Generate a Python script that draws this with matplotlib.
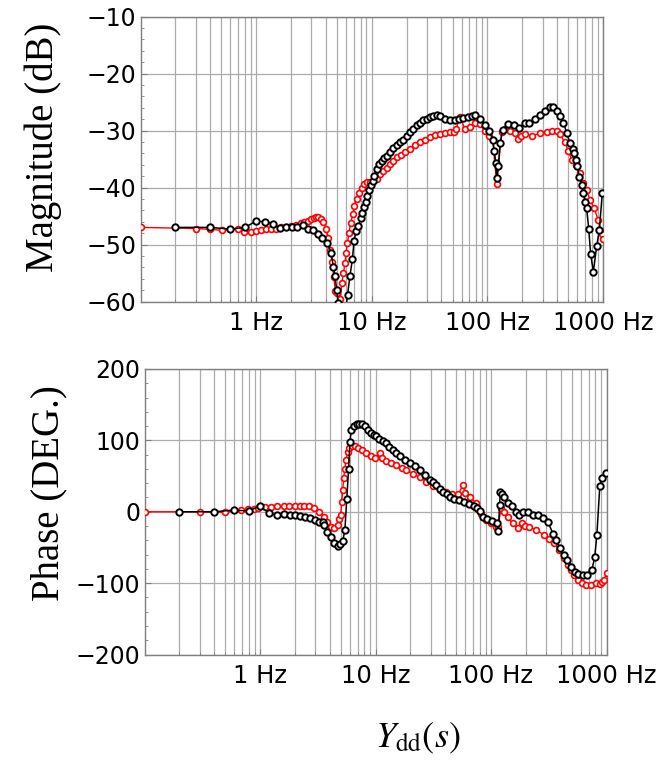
import matplotlib
matplotlib.use("Agg")
import matplotlib.pyplot as plt
from matplotlib.ticker import FixedLocator, MultipleLocator, NullFormatter

# ---------------- data ----------------
# Magnitude (dB), black (measured) series
mag_black_f = [0.2, 0.4, 0.6, 0.8, 1.0, 1.2, 1.4, 1.6, 1.83, 2.03, 2.25, 2.52, 2.79, 3.08,
               3.41, 3.75, 4.12, 4.47, 4.65, 4.81, 4.98, 5.11, 5.6, 6.18, 6.47, 6.8, 7.03,
               7.32, 7.67, 8.04, 8.31, 8.59, 8.88, 9.17, 9.55, 9.87, 10.2, 10.5, 11.0, 11.6,
               12.2, 12.8, 13.5, 14.4, 15.4, 16.4, 17.6, 18.8, 20.1, 21.5, 22.9, 24.5, 26.2,
               28.0, 29.9, 31.9, 34.1, 36.5, 39.0, 43.1, 47.6, 52.5, 57.3, 62, 68, 73, 78.2,
               86.4, 95.5, 104, 111, 115, 118, 120.5, 124.5, 128.8, 135.8, 152, 170, 189,
               212, 231, 258, 285, 315, 348, 372, 398, 425, 454, 485, 518, 547, 565, 580,
               600, 624, 654, 676, 699, 722, 752, 782, 825, 881, 929, 986]
mag_black_v = [-47.0, -47.0, -47.3, -47.0, -45.9, -46.0, -46.4, -47.1, -47.0, -47.0, -47.0,
               -46.6, -47.3, -47.5, -48.1, -48.9, -49.8, -51.5, -53.9, -55.6, -58.0, -60.2,
               -66.0, -58.8, -55.6, -52.6, -49.4, -47.6, -46.8, -45.3, -44.4, -43.5, -42.6,
               -41.5, -40.4, -39.6, -38.8, -37.9, -36.8, -35.9, -35.3, -34.9, -34.5, -33.8,
               -33.1, -32.6, -32.1, -31.6, -31.0, -30.3, -29.7, -29.1, -28.6, -28.2, -27.9,
               -27.6, -27.4, -27.35, -27.5, -27.9, -28.2, -28.2, -28.0, -27.8, -27.6, -27.4,
               -27.35, -27.9, -29.1, -30.1, -31.6, -33.6, -35.7, -38.4, -36.3, -32.2, -29.9,
               -28.8, -29.1, -29.5, -28.6, -28.6, -27.9, -27.35, -26.6, -25.8, -25.8, -26.6,
               -27.5, -28.6, -30.4, -32.2, -33.2, -33.9, -35.1, -36.3, -38.1, -39.5, -41.0,
               -42.5, -43.6, -47.2, -51.7, -54.8, -50.3, -47.5, -41.0]

# Magnitude (dB), red (model) series
mag_red_f = [0.1, 0.303, 0.403, 0.508, 0.695, 0.793, 0.906, 1.0, 1.10, 1.22, 1.35, 1.49,
             1.64, 1.82, 2.01, 2.22, 2.45, 2.62, 2.80, 2.99, 3.15, 3.30, 3.46, 3.65, 3.82,
             4.03, 4.22, 4.39, 4.54, 4.69, 4.85, 5.05, 5.2, 5.35, 5.51, 5.69, 5.88, 6.0,
             6.16, 6.36, 6.58, 6.85, 7.08, 7.42, 7.82, 8.20, 8.64, 9.17, 9.67, 10.3, 11.0,
             11.8, 12.6, 13.5, 14.4, 15.4, 16.4, 17.8, 19.4, 21.4, 23.7, 26.2, 28.9, 31.9,
             35.3, 39.0, 43.1, 47.6, 51.5, 53.6, 58.0, 64.1, 70.8, 78.2, 86.4, 95.5, 104,
             111, 120.5, 133, 142, 157, 173, 185, 194, 212, 242, 285, 326, 360, 398, 425,
             469, 501, 536, 584, 633, 676, 722, 772, 836, 911, 974, 1000]
mag_red_v = [-47.0, -47.2, -47.35, -47.5, -47.35, -47.8, -47.8, -47.65, -47.5, -47.35, -47.3,
             -47.2, -47.0, -46.9, -46.7, -46.5, -46.3, -46.05, -45.8, -45.6, -45.35, -45.1,
             -45.2, -45.5, -46.0, -47.2, -48.9, -51.0, -53.1, -55.7, -58.1, -58.5, -61.5,
             -59.5, -56.8, -55.0, -53.2, -51.5, -49.7, -47.9, -46.2, -44.7, -43.2, -42.1,
             -40.9, -40.0, -39.4, -39.1, -39.0, -38.8, -38.5, -37.6, -37.1, -36.5, -35.9,
             -35.3, -34.7, -34.3, -33.8, -33.2, -32.6, -32.1, -31.6, -31.2, -30.8, -30.6,
             -30.4, -30.3, -30.2, -29.7, -27.6, -29.8, -29.35, -28.6, -28.9, -30.1, -31.0,
             -31.6, -39.35, -30.3, -29.7, -30.1, -30.4, -31.5, -31.0, -30.7, -30.9, -30.5,
             -30.2, -30.1, -30.1, -30.7, -32.1, -33.6, -35.1, -36.0, -37.5, -39.2, -40.4,
             -42.2, -43.6, -45.7, -48.1, -49.0]

# Phase (deg), black series
ph_black_f = [0.2, 0.4, 0.6, 0.8, 1.0, 1.19, 1.4, 1.61, 1.82, 2.01, 2.22, 2.45, 2.72, 3.0,
              3.26, 3.49, 3.6, 3.84, 4.1, 4.4, 4.7, 4.95, 5.2, 5.43, 5.64, 5.85, 6.0, 6.17,
              6.46, 6.85, 7.2, 7.6, 8.1, 8.65, 9.2, 9.8, 10.2, 10.8, 11.5, 12.3, 13.2, 14.1,
              15.1, 16.2, 17.9, 19.8, 21.9, 24.2, 26.7, 29.5, 31.6, 33.7, 36.2, 38.7, 41.4,
              44.3, 47.4, 52.4, 58, 64.1, 70.9, 75.9, 80.1, 85.8, 92.9, 102.8, 112.2, 116,
              118.5, 120.5, 125.7, 130, 139, 150.7, 164.4, 176, 188, 208, 230, 255, 282, 312,
              345, 369, 395, 425, 452, 493, 535, 572, 620, 676, 748, 790, 825, 875, 918, 985]
ph_black_v = [0, 0, 2.3, 1, 8.2, -1.8, -4.7, -3.3, -4.0, -4.7, -5.6, -7.0, -9.3, -11.7,
              -14.5, -14.7, -18.8, -28, -36, -44, -48, -45, -41, -26, 18, 60, 98, 114,
              120.5, 123, 123.5, 123, 119.7, 114.5, 110.5, 108, 105.6, 102.5, 99.5, 96, 91,
              86.5, 82, 77.5, 72.5, 68, 63.4, 58.7, 51, 45, 41, 37, 32, 28, 24.7, 21, 18.5,
              16.3, 14, 10.7, 7.9, 4.7, 0.5, -7.0, -10.7, -12.5, -15.5, -27, 10, 27, 25, 20,
              12, 7.5, -1, -5, -0.5, -0.5, -4.7, -5.2, -9.3, -15, -31, -40, -51.3, -60.5,
              -67.7, -77, -84, -87.5, -89, -88, -81, -64, -33, 36, 46.6, 53.6]

# Phase (deg), red series
ph_red_f = [0.1, 0.3, 0.5, 0.68, 0.78, 0.89, 0.97, 1.1, 1.25, 1.4, 1.6, 1.8, 2.0, 2.2, 2.4,
            2.65, 2.95, 3.26, 3.55, 3.84, 4.1, 4.4, 4.7, 4.85, 5.0, 5.1, 5.2, 5.3, 5.42,
            5.55, 5.75, 5.95, 6.2, 6.6, 7.08, 7.57, 8.35, 9.2, 9.87, 10.9, 11.3, 12.4, 13.7,
            15.1, 16.8, 18.5, 21.2, 24.2, 27.6, 31.6, 36, 41, 46, 52, 57, 60, 66, 74, 82,
            90.6, 100, 110, 115, 122, 130, 139, 154, 170, 185, 198, 215, 244, 289, 320, 353,
            389, 430, 460, 491, 525, 562, 612, 660, 730, 809, 880, 920, 960, 1000]
ph_red_v = [0, 0, -1, 2.5, 3.5, 3.8, 4.7, 6.5, 7, 7.5, 7.5, 8, 8.5, 8.5, 8, 7.5, 5, 0, -7,
            -15, -21, -23, -19, -10, -4, 14, 30, 47, 60, 72, 84, 90, 92.5, 91.5, 89, 86.5,
            82, 77.5, 75, 82, 75.5, 70.5, 68, 65, 61, 58, 53, 48, 42, 36, 31, 27, 25, 24.5,
            37, 26, 20, 11.7, -3, -11.7, -16.4, -21, -22, 4.7, 0, -7, -16.4, -23.4, -16.4,
            -20, -21, -25, -32.7, -38, -44.4, -53.7, -65.4, -74, -82, -89, -95, -100.5,
            -102, -102, -100.5, -101, -99, -95, -86]

x_ticks = [1, 10, 100, 1000]
x_tick_labels = ["1 Hz", "10 Hz", "100 Hz", "1000 Hz"]

# ---------------- figure ----------------
plt.rcParams["font.family"] = ["DejaVu Sans"]
plt.rcParams["mathtext.fontset"] = "stix"

W, H = 671, 763
fig = plt.figure(figsize=(W / 100, H / 100), dpi=100)
ax1 = fig.add_axes([140.5 / W, 1 - 301.5 / H, 462.5 / W, 285 / H])
ax2 = fig.add_axes([144.5 / W, 1 - 654.5 / H, 462 / W, 285.5 / H])

grid_c = "#ababab"
spine_c = "#7f7f7f"
minor_x = [m * d for d in (0.1, 1, 10, 100) for m in range(2, 10)]

for ax in (ax1, ax2):
    ax.set_xscale("log")
    ax.set_xlim(0.1, 1000)
    ax.xaxis.set_major_locator(FixedLocator(x_ticks))
    ax.set_xticklabels(x_tick_labels)
    ax.xaxis.set_minor_locator(FixedLocator(minor_x))
    ax.xaxis.set_minor_formatter(NullFormatter())
    ax.grid(True, which="major", axis="both", color=grid_c, lw=0.9)
    ax.grid(True, which="minor", axis="x", color=grid_c, lw=0.9)
    ax.set_axisbelow(True)
    for s in ax.spines.values():
        s.set_color(spine_c)
        s.set_linewidth(1.0)
    ax.tick_params(which="both", direction="in", color=spine_c, top=False, right=False)
    ax.tick_params(which="major", length=4, width=0.8)
    ax.tick_params(which="minor", length=2.5, width=0.6)
    ax.tick_params(axis="x", which="major", labelsize=17.5, pad=7)
    ax.tick_params(axis="y", which="major", labelsize=17, pad=3)

red_kw = dict(color="#ff0000", lw=1.0, marker="o", ms=4.2, mfc="white", mec="#ff0000", mew=1.2, zorder=3)
blk_kw = dict(color="black", lw=1.1, marker="o", ms=4.6, mfc="white", mec="black", mew=1.4, zorder=4)

ax1.plot(mag_red_f, mag_red_v, **red_kw)
ax1.plot(mag_black_f, mag_black_v, **blk_kw)
ax1.set_ylim(-60, -10)
ax1.set_yticks(range(-60, -9, 10))
ax1.yaxis.set_minor_locator(MultipleLocator(2))

ax2.plot(ph_red_f, ph_red_v, **red_kw)
ax2.plot(ph_black_f, ph_black_v, **blk_kw)
ax2.set_ylim(-200, 200)
ax2.set_yticks(range(-200, 201, 100))
ax2.yaxis.set_minor_locator(MultipleLocator(20))

serif = ["Liberation Serif", "DejaVu Serif"]
ax1.set_ylabel("Magnitude (dB)", fontsize=28, family=serif)
ax1.yaxis.set_label_coords((62.5 - 140.5) / 462.5, 0.54)
ax2.set_ylabel("Phase (DEG.)", fontsize=28, family=serif)
ax2.yaxis.set_label_coords((67 - 144.5) / 462, 0.567)

ax2.set_xlabel(r"$Y_{\mathrm{dd}}(s)$", fontsize=26, va="baseline")
ax2.xaxis.set_label_coords((417.5 - 144.5) / 462, (654.5 - 747) / 285.5)

fig.savefig("out.png", dpi=100)
